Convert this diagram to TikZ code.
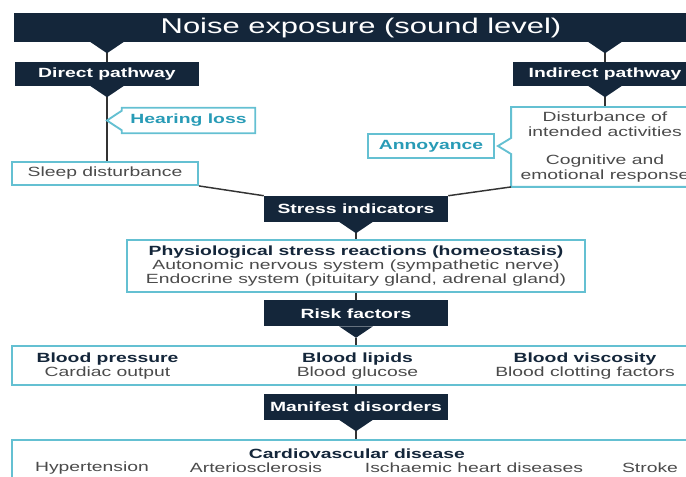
\documentclass[tikz,border=0pt]{standalone}
\usepackage{fontspec}
\setmainfont{Liberation Sans}[FakeStretch=1.45]
\usetikzlibrary{calc,positioning}

\definecolor{navy}{RGB}{20,38,58}
\definecolor{tealline}{RGB}{100,192,210}
\definecolor{tealtext}{RGB}{40,155,182}
\definecolor{greytext}{RGB}{75,75,75}

\begin{document}
\begin{tikzpicture}[x=0.75pt,y=-0.75pt,
	darkbox/.style={fill=navy,text=white,font=\bfseries\fontsize{10}{12}\selectfont,
		minimum width=184*0.75pt,minimum height=26*0.75pt,inner sep=0pt},
	tealbox/.style={draw=tealline,line width=1.4pt,fill=white,text=greytext,
		font=\fontsize{10}{10.5}\selectfont,inner sep=0pt,align=center},
	callout/.style={text=tealtext,font=\bfseries\fontsize{10}{12}\selectfont,inner sep=0pt},
	coltext/.style={text=greytext,font=\fontsize{10}{10.5}\selectfont,align=center,inner sep=0pt},
	link/.style={draw=black!80,line width=1.1pt}]
	\newcommand{\hd}[1]{\textcolor{navy}{\bfseries #1}}
	\newcommand{\notch}[2]{\fill[navy] ($(#1)+(-17,-0.5)$) -- ($(#1)+(17,-0.5)$)
		-- ($(#1)+(0,11)$) coordinate (#2) -- cycle;}

	\useasboundingbox (0,0) rectangle (686,477);
	\clip (0,0) rectangle (686,477);

	% header and pathways
	\node[darkbox,minimum width=694*0.75pt,minimum height=29*0.75pt,
		font=\fontsize{16}{19}\selectfont] (noise) at (361,27.5) {Noise exposure (sound level)};
	\node[darkbox,minimum height=24*0.75pt] (direct) at (107,74) {Direct pathway};
	\node[darkbox,minimum height=24*0.75pt] (indirect) at (605,74) {Indirect pathway};

	\coordinate (noiseL) at (noise.south -| direct.north);
	\coordinate (noiseR) at (noise.south -| indirect.north);
	\notch{noiseL}{tipL}
	\notch{noiseR}{tipR}
	\notch{direct.south}{tipD}
	\notch{indirect.south}{tipI}
	\draw[link] (tipL) -- (direct);
	\draw[link] (tipR) -- (indirect);

	% direct side
	\node[tealbox,minimum width=186*0.75pt,minimum height=23*0.75pt] (sleep) at (105,173.5) {Sleep disturbance};
	\node[callout,minimum width=133*0.75pt,minimum height=25*0.75pt] (hearing) at (188.5,120.5) {Hearing loss};
	\draw[link] (tipD) -- (tipD |- sleep.north);
	\draw[tealline,line width=1.4pt] (hearing.north west) -- ++(0,3) -- (tipD |- hearing.west)
		-- ($(hearing.south west)+(0,-3)$) -- (hearing.south west) -- (hearing.south east)
		-- (hearing.north east) -- cycle;

	% indirect side
	\node[tealbox,draw=none,minimum width=186*0.75pt,minimum height=78*0.75pt,
		font=\fontsize{10}{11.25}\selectfont] (disturb) at (605,147)
		{Disturbance of\\intended activities\\[9.75pt]Cognitive and\\emotional response};
	\node[tealbox,text=tealtext,font=\bfseries\fontsize{10}{12}\selectfont,
		minimum width=126*0.75pt,minimum height=24*0.75pt] (annoy) at (431,146) {Annoyance};
	\draw[link] (tipI) -- (tipI |- disturb.north);
	\draw[tealline,line width=1.4pt] (disturb.north west) -- ($(disturb.west)+(0,-9)$)
		-- ($(annoy.east)+(3,0)$) -- ($(disturb.west)+(0,7)$) -- (disturb.south west)
		-- (disturb.south east) -- (disturb.north east) -- cycle;

	% stress
	\node[darkbox] (stress) at (356,209) {Stress indicators};
	\notch{stress.south}{tipS}
	\draw[link] (sleep.south east) -- (stress.north west);
	\draw[link] (disturb.south west) -- (stress.north east);
	\node[tealbox,minimum width=458*0.75pt,minimum height=52*0.75pt] (phys) at (356,266)
		{\hd{Physiological stress reactions (homeostasis)}\\
		Autonomic nervous system (sympathetic nerve)\\
		Endocrine system (pituitary gland, adrenal gland)};
	\draw[link] (tipS) -- (phys);

	% risk factors
	\node[darkbox] (risk) at (356,313.5) {Risk factors};
	\notch{risk.south}{tipRk}
	\draw[link] (phys) -- (risk);
	\node[tealbox,minimum width=688*0.75pt,minimum height=39*0.75pt] (factors) at (356,365.5) {};
	\draw[link] (tipRk) -- (factors);
	\node[coltext] (pressure) at (107.5,366) {\hd{Blood pressure}\\Cardiac output};
	\node[coltext] (lipids) at (357.5,366) {\hd{Blood lipids}\\Blood glucose};
	\node[coltext] (viscosity) at (585,366) {\hd{Blood viscosity}\\Blood clotting factors};

	% manifest disorders
	\node[darkbox] (manifest) at (356,407) {Manifest disorders};
	\notch{manifest.south}{tipM}
	\draw[link] (factors) -- (manifest);
	\node[tealbox,minimum width=688*0.75pt,minimum height=60*0.75pt] (cardio) at (356,470) {};
	\draw[link] (tipM) -- (cardio);
	\node[coltext] (cvd) at (357,454) {\hd{Cardiovascular disease}};
	\node[coltext] (hyper) at (92,468) {Hypertension};
	\node[coltext] (arterio) at (256,468) {Arteriosclerosis};
	\node[coltext] (ischaemic) at (474,468) {Ischaemic heart diseases};
	\node[coltext] (stroke) at (650,468) {Stroke};
\end{tikzpicture}
\end{document}
